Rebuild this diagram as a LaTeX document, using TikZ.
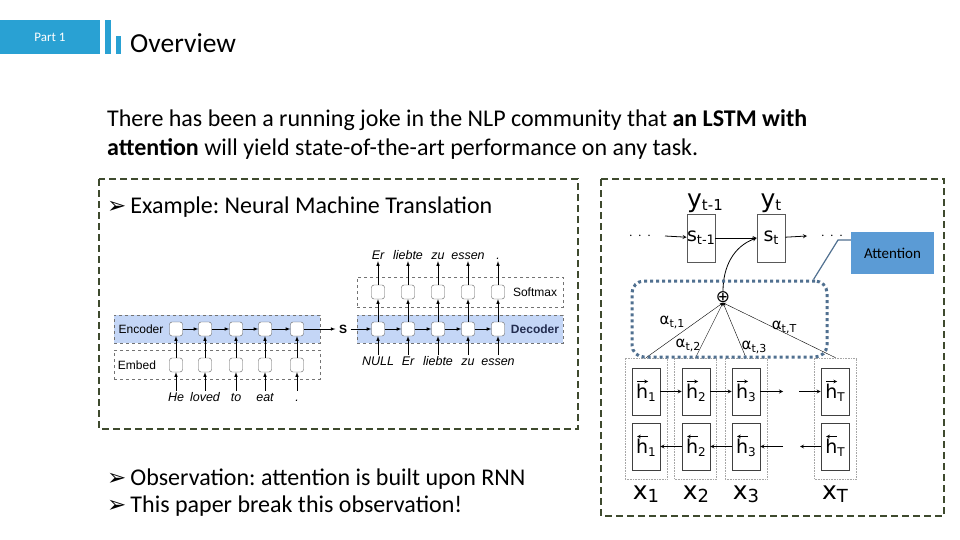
\documentclass[tikz,border=0pt]{standalone}
\usepackage{fontspec}
\setmainfont{Carlito}
\newfontfamily\figfont{Liberation Sans}
\newfontfamily\dejafont{DejaVu Sans}
\usetikzlibrary{arrows, shapes, positioning}

\definecolor{partblue}{RGB}{41,161,211}
\definecolor{framegreen}{RGB}{62,74,46}
\definecolor{encblue}{RGB}{196,214,246}
\definecolor{attnblue}{RGB}{80,112,144}
\definecolor{callblue}{RGB}{91,155,213}
\definecolor{decblue}{RGB}{35,45,80}

\newcommand{\lowidx}[2][11]{\raisebox{-3pt}{\fontsize{#1}{#1}\selectfont #2}}
\newcommand{\hvec}[2]{\makebox[0pt][l]{\hspace{0.5pt}\raisebox{17pt}{\tikz\draw[#1, line width=0.7pt, >=stealth] (0pt,0pt) -- (11pt,0pt);}}h\lowidx[12]{#2}}
\newcommand{\bullarrow}{{\dejafont\fontsize{23}{23}\selectfont ➢}\,}

\tikzset{
  frame/.style={draw=framegreen, line width=2.6pt, dash pattern=on 7pt off 4pt},
  band/.style={draw=gray!90!black, dashed, line width=0.6pt, inner sep=0pt},
  cell/.style={draw=gray!70!black, fill=white, rounded corners=2.5pt, minimum width=13pt, minimum height=14pt, inner sep=0pt},
  word/.style={font=\figfont\itshape\fontsize{12.5}{12.5}\selectfont, inner sep=1pt, text height=9pt, text depth=1pt},
  flabel/.style={font=\figfont\fontsize{12}{12}\selectfont},
  small/.style={line width=0.6pt, >=latex},
  sbox/.style={draw=gray!70!black, line width=0.7pt, minimum width=28pt, minimum height=48pt, inner sep=0pt, font=\dejafont\fontsize{19}{19}\selectfont},
  hbox/.style={draw=black!75, line width=0.7pt, minimum width=28pt, minimum height=47pt, inner sep=0pt, font=\dejafont\fontsize{19}{19}\selectfont},
  col/.style={draw=gray!70, densely dotted, line width=0.6pt, minimum width=42pt, minimum height=121pt, inner sep=0pt},
  big/.style={font=\dejafont\fontsize{25}{25}\selectfont, inner sep=0pt},
  alab/.style={font=\dejafont\fontsize{15}{15}\selectfont, inner sep=0pt},
  body/.style={anchor=base west, inner sep=0pt, font=\fontsize{24}{28}\selectfont}
}

\begin{document}
\frenchspacing
\begin{tikzpicture}[x=1pt, y=-1pt, >=stealth]
  \useasboundingbox[fill=white] (0,0) rectangle (960,540);

  % title bar
  \node[fill=partblue, minimum width=100pt, minimum height=34pt, inner sep=0pt, text=white, font=\fontsize{13}{13}\selectfont] (part) at (50,37) {Part 1};
  \node[fill=partblue, minimum width=6pt, minimum height=34pt, inner sep=0pt] (bar1) at (108,37) {};
  \node[fill=partblue, minimum width=5pt, minimum height=18pt, inner sep=0pt] (bar2) at (118.5,45) {};
  \node[anchor=base west, inner sep=0pt, font=\fontsize{27.5}{27.5}\selectfont] (title) at (130,53) {Overview};

  % text
  \node[body] (line1) at (107,127) {There has been a running joke in the NLP community that \textbf{an LSTM with}};
  \node[body] (line2) at (107,156) {\textbf{attention} will yield state-of-the-art performance on any task.};
  \node[body] (obs1) at (107,485) {\bullarrow Observation: attention is built upon RNN};
  \node[body] (obs2) at (107,512) {\bullarrow This paper break this observation!};

  % left panel
  \draw[frame] (99,179) rectangle (578,429);
  \node[body] (example) at (107,213) {\bullarrow Example: Neural Machine Translation};

  \node[band, fill=encblue, minimum width=206pt, minimum height=28pt] (encband) at (217,329) {};
  \node[band, minimum width=206pt, minimum height=29pt] (embband) at (217,364.5) {};
  \node[band, fill=encblue, minimum width=206pt, minimum height=28pt] (decband) at (460,329) {};
  \node[band, minimum width=206pt, minimum height=30pt] (softband) at (460,292) {};

  \node[flabel] (enctext) at (141,329) {Encoder};
  \node[flabel] (embtext) at (137,365) {Embed};
  \node[flabel] (softtext) at (535,292) {Softmax};
  \node[flabel, text=decblue, font=\figfont\bfseries\fontsize{12}{12}\selectfont] (dectext) at (535,329) {Decoder};

  \foreach \i/\x/\w in {1/176/He, 2/205/loved, 3/236/to, 4/265/eat, 5/297/.} {
    \node[cell] (enc\i) at (\x,329) {};
    \node[cell] (emb\i) at (\x,365) {};
    \node[word] (src\i) at (\x,397) {\w};
    \draw[small, ->] (src\i) -- (emb\i);
    \draw[small, ->] (emb\i) -- (enc\i);
  }
  \foreach \i/\x/\w/\v in {1/378/NULL/Er, 2/408/Er/liebte, 3/438/liebte/zu, 4/468/zu/essen, 5/498/essen/.} {
    \node[cell] (dec\i) at (\x,329) {};
    \node[cell] (soft\i) at (\x,292) {};
    \node[word] (in\i) at (\x,361) {\w};
    \node[word] (out\i) at (\x,255) {\v};
    \draw[small, ->] (in\i) -- (dec\i);
    \draw[small, ->] (dec\i) -- (soft\i);
    \draw[small, ->] (soft\i) -- (out\i);
  }
  \foreach \i/\j in {1/2, 2/3, 3/4, 4/5} {
    \draw[small, ->] (enc\i) -- (enc\j);
    \draw[small, ->] (dec\i) -- (dec\j);
  }
  \node[flabel, font=\figfont\bfseries\fontsize{12}{12}\selectfont] (snode) at (343,329) {S};
  \draw[small, ->] (enc5) -- (snode);
  \draw[small, ->] (snode) -- (dec1);

  % right panel
  \draw[frame] (601,179) rectangle (944,516);

  \node[big] (ytm1) at (705,203) {y\lowidx[15]{t-1}};
  \node[big] (yt) at (771,203) {y\lowidx[15]{t}};
  \node[sbox] (stm1) at (701,238) {s\lowidx[13]{t-1}};
  \node[sbox] (st) at (771,238) {s\lowidx[13]{t}};
  \node[font=\fontsize{12}{12}\selectfont] (dotsl) at (640,236) {.\hspace{6pt}.\hspace{6pt}.};
  \node[font=\fontsize{12}{12}\selectfont] (dotsr) at (832,236) {.\hspace{6pt}.\hspace{6pt}.};
  \coordinate (inl) at (665,236);
  \coordinate (outr) at (807,236);
  \draw[thick, ->] (inl) -- (stm1);
  \draw[thick, ->] (stm1) -- (st);
  \draw[thick, ->] (st) -- (outr);

  \node[inner sep=0pt, font=\dejafont\fontsize{17}{17}\selectfont] (sum) at (723,297) {⊕};
  \draw[thick, ->] (sum) to[out=90, in=200] (st.west);

  \foreach \i/\x in {1/646, 2/695.5, 3/746, T/835.5} {
    \node[col] (col\i) at (\x,418.5) {};
    \draw[thin, ->] (col\i.north) -- (sum.south);
  }
  \foreach \i/\x in {1/646, 2/696, 3/746, T/835} {
    \node[hbox] (fw\i) at (\x,391.5) {\hvec{->}{\i}};
    \node[hbox] (bw\i) at (\x,446.5) {\hvec{<-}{\i}};
    \node[big] (x\i) at (\x,494) {x\lowidx[18]{\i}};
  }
  \node[alab] (a1) at (672,322) {α\lowidx[11]{t,1}};
  \node[alab] (a2) at (688,345) {α\lowidx[11]{t,2}};
  \node[alab] (a3) at (754,347) {α\lowidx[11]{t,3}};
  \node[alab] (aT) at (784,327) {α\lowidx[11]{t,T}};

  \coordinate (fwgapl) at (783,391.5);
  \coordinate (fwgapr) at (799,391.5);
  \coordinate (bwgapr) at (800,446.5);
  \coordinate (bwgapl) at (783,446.5);
  \draw[thick, ->] (fw1) -- (fw2);
  \draw[thick, ->] (fw2) -- (fw3);
  \draw[thick, ->] (fw3) -- (fwgapl);
  \draw[thick, ->] (fwgapr) -- (fwT);
  \draw[thick, ->] (bwT) -- (bwgapr);
  \draw[thick, ->] (bwgapl) -- (bw3);
  \draw[thick, ->] (bw3) -- (bw2);
  \draw[thick, ->] (bw2) -- (bw1);

  % attention
  \node[draw=attnblue, line width=3pt, dash pattern=on 3pt off 3pt, rounded corners=12pt, minimum width=195pt, minimum height=76pt, inner sep=0pt] (attnframe) at (729.5,319) {};
  \node[fill=callblue, minimum width=83pt, minimum height=42pt, inner sep=0pt, font=\fontsize{15}{15}\selectfont] (attn) at (892.5,253) {Attention};
  \coordinate (kink) at (838,240);
  \draw[attnblue, line width=1.2pt] ([xshift=-15pt]attnframe.north east) -- (kink) -- (kink -| attn.west);
\end{tikzpicture}
\end{document}
